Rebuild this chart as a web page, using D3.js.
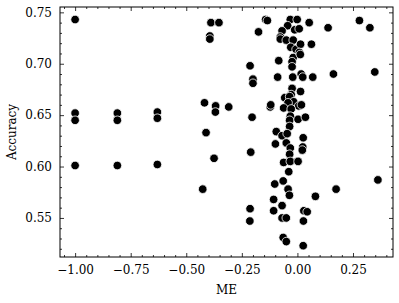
<!DOCTYPE html>
<html>
<head>
<meta charset="utf-8">
<script src="https://cdn.jsdelivr.net/npm/d3@7"></script>
<style>
  body { margin: 0; background: #fff; }
  text { font-family: "DejaVu Serif", "Liberation Serif", serif; fill: #000; }
</style>
</head>
<body>
<div id="chart"></div>
<script>
'use strict';

// ME value for each run
var me = [
    -1.00, -1.00, -1.00, -1.00, -0.81, -0.81, -0.81, -0.63, -0.63, -0.63,
    -0.389, -0.353, -0.394, -0.394, -0.418, -0.368, -0.369, -0.309, -0.411, -0.375, -0.426,
    -0.213, -0.200, -0.200, -0.204, -0.210, -0.213, -0.214, -0.143, -0.135, -0.175, -0.122, -0.120,
    -0.084, -0.089, -0.032, -0.001, -0.044, -0.012, 0.008, -0.069, -0.077, -0.077,
    -0.050, -0.019, -0.030, -0.006, 0.014, 0.009, -0.019, -0.024, -0.024, 0.013,
    0.017, 0.024, -0.021, -0.024, 0.014, -0.028, -0.057, -0.035, -0.017, -0.042,
    -0.062, 0.006, 0.018, -0.028, -0.032, -0.035, 0.003, 0.036, -0.035, -0.095,
    -0.069, -0.046, 0.026, -0.099, -0.050, -0.032, 0.024, 0.022, -0.035, -0.062,
    -0.032, 0.003, -0.039, -0.102, -0.064, -0.042, -0.036, -0.107, -0.069, -0.107,
    -0.069, -0.050, -0.064, -0.050, 0.026, 0.029, 0.044, 0.027, 0.081,
    0.053, 0.138, 0.279, 0.326, 0.063, 0.162, 0.348, 0.069, 0.174, 0.362
];

// accuracy for each run (same order)
var accuracy = [
    0.743, 0.652, 0.645, 0.601, 0.652, 0.645, 0.601, 0.653, 0.647, 0.602,
    0.740, 0.740, 0.727, 0.724, 0.662, 0.659, 0.653, 0.658, 0.633, 0.608, 0.578,
    0.698, 0.685, 0.681, 0.648, 0.614, 0.559, 0.547, 0.743, 0.742, 0.731, 0.658, 0.660,
    0.703, 0.687, 0.743, 0.743, 0.737, 0.733, 0.734, 0.732, 0.726, 0.724,
    0.723, 0.723, 0.716, 0.714, 0.719, 0.711, 0.706, 0.702, 0.697, 0.709,
    0.690, 0.687, 0.687, 0.676, 0.673, 0.670, 0.667, 0.668, 0.663, 0.662,
    0.657, 0.659, 0.660, 0.656, 0.649, 0.645, 0.646, 0.648, 0.639, 0.634,
    0.630, 0.632, 0.628, 0.622, 0.623, 0.618, 0.619, 0.616, 0.612, 0.604,
    0.605, 0.605, 0.595, 0.583, 0.586, 0.578, 0.572, 0.568, 0.562, 0.557,
    0.550, 0.550, 0.531, 0.527, 0.523, 0.557, 0.556, 0.547, 0.571,
    0.740, 0.735, 0.742, 0.735, 0.719, 0.690, 0.692, 0.687, 0.578, 0.587
];

var xTicks = [-1.00, -0.75, -0.50, -0.25, 0.00, 0.25];
var yTicks = [0.55, 0.60, 0.65, 0.70, 0.75];

var width = 399, height = 303;
var margin = {top: 7, right: 6, bottom: 46, left: 60};

var svg = d3.select("#chart").append("svg")
    .attr("width", width)
    .attr("height", height);

var x = d3.scaleLinear()
    .domain([-1.068, 0.43])
    .range([margin.left, width - margin.right]);
var y = d3.scaleLinear()
    .domain([0.512, 0.7552])
    .range([height - margin.bottom, margin.top]);

var xMinor = d3.range(-1.05, 0.43, 0.05).filter(function(v) {
    return Math.abs(Math.round(v * 4) - v * 4) > 1e-6;
});
var yMinor = d3.range(0.52, 0.755, 0.01).filter(function(v) {
    return Math.abs(Math.round(v * 20) - v * 20) > 1e-6;
});

var fmt2 = d3.format(".2f");

// inward ticks on all four sides
function tickAxis(axisFn, scale, ticks, len, labels) {
    return axisFn(scale).tickValues(ticks).tickSizeInner(-len).tickSizeOuter(0)
        .tickPadding(labels ? 8 : 0)
        .tickFormat(labels ? fmt2 : "");
}

var plotW = width - margin.left - margin.right;
var plotH = height - margin.top - margin.bottom;

var gx = svg.append("g").attr("transform", "translate(0," + (height - margin.bottom) + ")");
gx.call(tickAxis(d3.axisBottom, x, xMinor, 2, false));
var gx2 = svg.append("g").attr("transform", "translate(0," + (height - margin.bottom) + ")");
gx2.call(tickAxis(d3.axisBottom, x, xTicks, 4, true));

var gxt = svg.append("g").attr("transform", "translate(0," + margin.top + ")");
gxt.call(tickAxis(d3.axisTop, x, xMinor, 2, false));
var gxt2 = svg.append("g").attr("transform", "translate(0," + margin.top + ")");
gxt2.call(tickAxis(d3.axisTop, x, xTicks, 4, false));

var gy = svg.append("g").attr("transform", "translate(" + margin.left + ",0)");
gy.call(tickAxis(d3.axisLeft, y, yMinor, 2, false));
var gy2 = svg.append("g").attr("transform", "translate(" + margin.left + ",0)");
gy2.call(tickAxis(d3.axisLeft, y, yTicks, 4, true));

var gyr = svg.append("g").attr("transform", "translate(" + (width - margin.right) + ",0)");
gyr.call(tickAxis(d3.axisRight, y, yMinor, 2, false));
var gyr2 = svg.append("g").attr("transform", "translate(" + (width - margin.right) + ",0)");
gyr2.call(tickAxis(d3.axisRight, y, yTicks, 4, false));

svg.selectAll(".domain").remove();
svg.selectAll(".tick line").attr("stroke", "#000").attr("stroke-width", 0.8);
svg.selectAll(".tick text")
    .style("font-family", "'DejaVu Serif', serif")
    .style("font-size", "12px")
    .attr("fill", "#000");

// frame
svg.append("rect")
    .attr("x", margin.left)
    .attr("y", margin.top)
    .attr("width", plotW)
    .attr("height", plotH)
    .attr("fill", "none")
    .attr("stroke", "#000")
    .attr("stroke-width", 1);

var pts = me.map(function(d, i) { return [d, accuracy[i]]; });

svg.append("g").selectAll("circle")
    .data(pts)
  .enter().append("circle")
    .attr("cx", function(d) { return x(d[0]); })
    .attr("cy", function(d) { return y(d[1]); })
    .attr("r", 4.3)
    .attr("fill", "#000")
    .attr("stroke", "#fff")
    .attr("stroke-width", 0.8);

svg.append("text")
    .attr("x", margin.left + plotW / 2)
    .attr("y", 294)
    .attr("text-anchor", "middle")
    .style("font-size", "12px")
    .text("ME");

svg.append("text")
    .attr("transform", "translate(16," + (margin.top + plotH / 2) + ") rotate(-90)")
    .attr("text-anchor", "middle")
    .style("font-size", "12px")
    .text("Accuracy");
</script>
</body>
</html>
